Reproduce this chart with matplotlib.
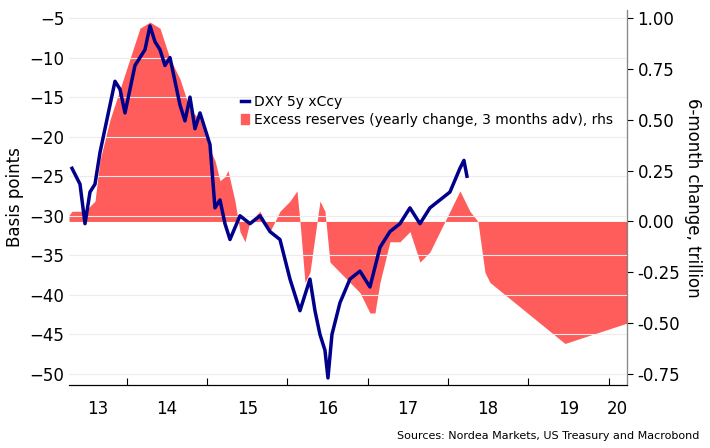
import matplotlib
matplotlib.use("Agg")
import matplotlib.pyplot as plt
import numpy as np

X0 = 2013.28
def yr(px): return X0 + (np.array(px) - 69) / 80.3

res_px = [69,72,85,95,100,110,120,130,140,150,160,170,180,190,200,210,215,220,225,228,235,240,245,250,260,270,280,290,297,300,305,310,320,325,330,340,350,360,370,375,380,390,400,410,420,430,440,450,460,470,478,485,490,565,627]
res_val = [0.03,0.05,0.05,0.1,0.3,0.5,0.65,0.8,0.95,0.98,0.95,0.8,0.7,0.55,0.5,0.35,0.3,0.2,0.22,0.25,0.1,-0.05,-0.1,0.0,0.05,-0.05,0.05,0.1,0.15,0.0,-0.3,-0.25,0.1,0.05,-0.2,-0.25,-0.3,-0.35,-0.45,-0.45,-0.3,-0.1,-0.1,-0.05,-0.2,-0.15,-0.05,0.05,0.15,0.05,0.0,-0.25,-0.3,-0.6,-0.5]

dxy_px = [72,80,85,90,95,100,105,110,115,120,125,130,135,140,145,150,155,160,165,170,175,180,185,190,195,200,205,210,215,220,225,230,240,250,260,270,280,290,295,300,305,310,315,320,325,328,332,340,350,360,370,380,390,400,410,420,430,440,450,460,464,467]
dxy_val = [-24,-26,-31,-27,-26,-22,-19,-16,-13,-14,-17,-14,-11,-10,-9,-6,-8,-9,-11,-10,-13,-16,-18,-15,-19,-17,-19,-21,-29,-28,-31,-33,-30,-31,-30,-32,-33,-38,-40,-42,-40,-38,-42,-45,-47,-50.5,-45,-41,-38,-37,-39,-34,-32,-31,-29,-31,-29,-28,-27,-24,-23,-25]

fig = plt.figure(figsize=(7.10, 4.48), dpi=100)
ax = fig.add_axes([69/710, 1-385/448, (627-69)/710, (385-10)/448])
ax2 = ax.twinx()
ax.set_zorder(2); ax.patch.set_visible(False)

RED = "#ff5c5c"
ax2.fill_between(yr(res_px), res_val, 0, color=RED, lw=0)
ax2.set_ylim(-0.75 - 11/203.4, 1.0 + 8/203.4)
ax.set_ylim(-50 - 11/7.91, -5 + 8/7.91)
ax.set_xlim(X0, 2020.23)
ax.plot(yr(dxy_px), dxy_val, color="#00008b", lw=2.5, label="DXY 5y xCcy")

ax.set_yticks(range(-50, 0, 5))
ax2.set_yticks([-0.75, -0.5, -0.25, 0, 0.25, 0.5, 0.75, 1.0])
ax2.set_yticklabels(["-0.75", "-0.50", "-0.25", "0.00", "0.25", "0.50", "0.75", "1.00"])
for y in ax.get_yticks():
    ax.axhline(y, color="#ececec", lw=0.8, zorder=0)
ax.set_xticks(range(2014, 2021))
ax.set_xticklabels([])
labels = ["13", "14", "15", "16", "17", "18", "19", "20"]
pos = [(X0 + 2014) / 2] + [y + 0.5 for y in range(2014, 2020)] + [(2020 + 2020.23) / 2]
for p, l in zip(pos, labels):
    ax.text(p, -0.04, l, transform=ax.get_xaxis_transform(), ha="center", va="top", fontsize=12)
ax.tick_params(axis="x", length=5, direction="in")
ax.tick_params(axis="y", labelsize=12, length=0)
ax2.tick_params(axis="y", labelsize=12, length=4)
for a in (ax, ax2):
    a.spines["top"].set_visible(False)
ax.spines["right"].set_color("#888")
ax.spines["left"].set_visible(False)
ax2.spines["left"].set_visible(False)
ax.set_ylabel("Basis points", fontsize=12)
ax2.set_ylabel("6-month change, trillion", fontsize=12, rotation=-90, labelpad=16)

from matplotlib.patches import Patch
h = [ax.get_lines()[0], Patch(color=RED)]
ax.legend(h, ["DXY 5y xCcy", "Excess reserves (yearly change, 3 months adv), rhs"],
          loc="upper left", bbox_to_anchor=(0.29, 0.8), frameon=False, fontsize=10,
          handlelength=0.6, handletextpad=0.4, labelspacing=0.3, borderpad=0.2)
fig.text(0.985, 0.02, "Sources: Nordea Markets, US Treasury and Macrobond", ha="right", fontsize=8)
fig.savefig("out.png", dpi=100)
